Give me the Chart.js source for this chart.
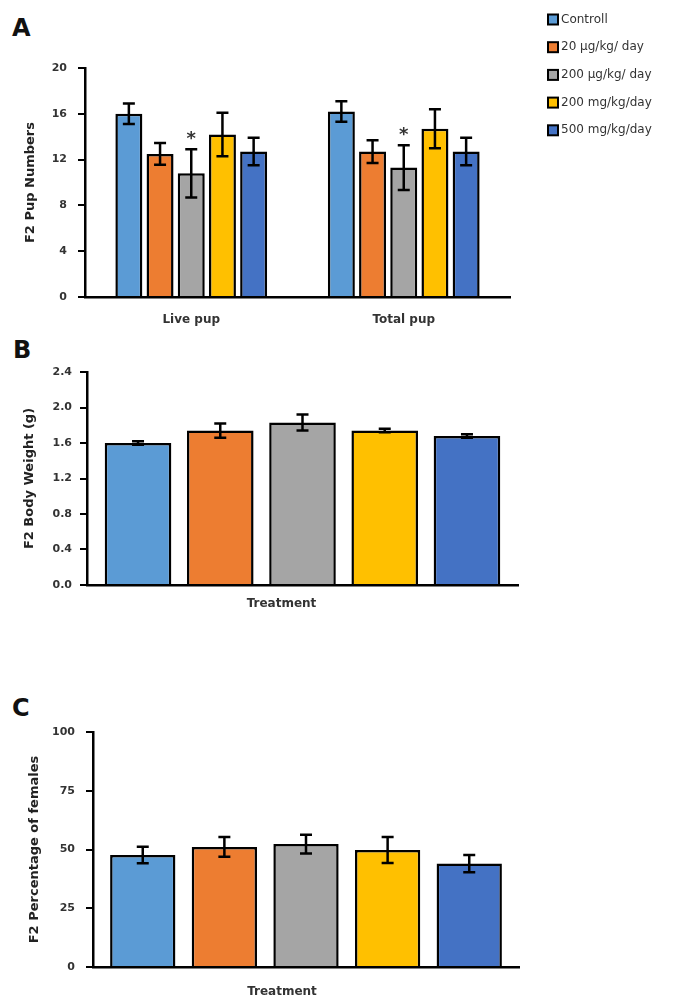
<!DOCTYPE html>
<html>
<head>
<meta charset="utf-8">
<script src="https://cdn.jsdelivr.net/npm/chart.js@4"></script>
<style>
  body { margin: 0; background: #fff; width: 676px; height: 1008px; position: relative; overflow: hidden; }
  canvas { position: absolute; left: 0; }
  .tag { position: absolute; font: bold 24px 'DejaVu Sans', sans-serif; line-height: 1; color: #111; }
</style>
</head>
<body>
<div class="tag" style="left:12px;top:16px">A</div>
<div class="tag" style="left:13px;top:338px">B</div>
<div class="tag" style="left:12px;top:696px">C</div>
<canvas id="chartA" width="676" height="340" style="top:0"></canvas>
<canvas id="chartB" width="676" height="290" style="top:330px"></canvas>
<canvas id="chartC" width="676" height="318" style="top:690px"></canvas>
<script>
// data
const groups = ['Controll', '20 μg/kg/ day', '200 μg/kg/ day', '200 mg/kg/day', '500 mg/kg/day'];
const colors = ['#5B9BD5', '#ED7D31', '#A5A5A5', '#FFC000', '#4472C4'];

const pupCategories = ['Live pup', 'Total pup'];
const livePup = [16.0, 12.5, 10.8, 14.2, 12.7];
const livePupErr = [0.9, 0.95, 2.1, 1.9, 1.2];
const totalPup = [16.2, 12.7, 11.3, 14.7, 12.7];
const totalPupErr = [0.9, 1.0, 1.95, 1.7, 1.2];
const pupStars = ['', '', '*', '', ''];
const pupTicks = [0, 4, 8, 12, 16, 20];

const treatCategories = ['Treatment'];
const bodyWeight = [1.60, 1.74, 1.83, 1.74, 1.68];
const bodyWeightErr = [0.02, 0.08, 0.09, 0.02, 0.02];
const weightTicks = [0, 0.4, 0.8, 1.2, 1.6, 2.0, 2.4];

const femalePct = [47.7, 51.1, 52.3, 49.8, 44.0];
const femalePctErr = [3.5, 4.2, 4.0, 5.5, 3.7];
const femaleTicks = [0, 25, 50, 75, 100];

const FONT = "'DejaVu Sans', sans-serif";

const errorBars = {
  id: 'errorBars',
  afterDatasetsDraw(chart, args, opts) {
    const ctx = chart.ctx;
    const y = chart.scales.y;
    ctx.save();
    ctx.strokeStyle = '#000';
    ctx.lineWidth = 2.5;
    chart.data.datasets.forEach((ds, i) => {
      chart.getDatasetMeta(i).data.forEach((bar, j) => {
        const v = ds.data[j], e = ds.errors[j];
        const top = y.getPixelForValue(v + e);
        const bot = y.getPixelForValue(v - e);
        const cw = 12;
        ctx.beginPath();
        ctx.moveTo(bar.x, top); ctx.lineTo(bar.x, bot);
        ctx.moveTo(bar.x - cw / 2, top); ctx.lineTo(bar.x + cw / 2, top);
        ctx.moveTo(bar.x - cw / 2, bot); ctx.lineTo(bar.x + cw / 2, bot);
        ctx.stroke();
        if (ds.star) {
          ctx.fillStyle = '#333';
          ctx.font = 'bold 18px ' + FONT;
          ctx.textAlign = 'center';
          ctx.textBaseline = 'middle';
          ctx.fillText(ds.star, bar.x, top - 10);
        }
      });
    });
    ctx.restore();
  }
};

const sideLegend = {
  id: 'sideLegend',
  afterDraw(chart) {
    const ctx = chart.ctx;
    ctx.save();
    ctx.font = '12px ' + FONT;
    ctx.textBaseline = 'middle';
    chart.data.datasets.forEach((ds, i) => {
      const cy = 19.5 + i * 27.7;
      ctx.fillStyle = ds.backgroundColor;
      ctx.fillRect(548, cy - 5, 10, 10);
      ctx.strokeStyle = '#000';
      ctx.lineWidth = 2;
      ctx.strokeRect(548, cy - 5, 10, 10);
      ctx.fillStyle = '#333';
      ctx.fillText(ds.label, 561, cy);
    });
    ctx.restore();
  }
};

function makeChart(id, labels, datasets, cfg) {
  return new Chart(document.getElementById(id), {
    type: 'bar',
    data: { labels: labels, datasets: datasets },
    plugins: cfg.legend ? [errorBars, sideLegend] : [errorBars],
    options: {
      responsive: false,
      animation: false,
      events: [],
      layout: { padding: cfg.padding },
      datasets: { bar: { categoryPercentage: cfg.catPct, barPercentage: cfg.barPct } },
      plugins: { legend: { display: false }, tooltip: { enabled: false } },
      scales: {
        x: {
          offset: true,
          afterFit: s => { s.height = cfg.xHeight; },
          grid: { display: false, drawTicks: false },
          border: { display: true, color: '#000', width: 2.5 },
          ticks: { padding: cfg.xPad, labelOffset: cfg.labelOffset || 0, color: '#333',
                   font: { family: FONT, size: 12, weight: 'bold' } }
        },
        y: {
          min: cfg.ticks[0],
          max: cfg.ticks[cfg.ticks.length - 1],
          afterBuildTicks: s => { s.ticks = cfg.ticks.map(v => ({ value: v })); },
          afterFit: s => { s.width = cfg.yWidth; },
          grid: { drawOnChartArea: false, drawTicks: true, tickLength: 7, color: '#000', lineWidth: 2 },
          border: { display: true, color: '#000', width: 2.5 },
          ticks: { padding: cfg.yPad, color: '#333', font: { family: FONT, size: 11, weight: 'bold' },
                   callback: cfg.fmt || (v => v) },
          title: { display: true, text: cfg.title, color: '#222',
                   font: { family: FONT, size: 13, weight: 'bold' },
                   padding: { top: cfg.titlePad, bottom: 0 } }
        }
      }
    }
  });
}

function barDataset(i, values, errors, star) {
  return {
    label: groups[i],
    data: values,
    errors: errors,
    star: star,
    backgroundColor: colors[i],
    borderColor: '#000',
    borderWidth: 2.5
  };
}

makeChart('chartA', pupCategories,
  groups.map((g, i) => barDataset(i, [livePup[i], totalPup[i]], [livePupErr[i], totalPupErr[i]], pupStars[i])),
  { legend: true, padding: { top: 68, right: 166, bottom: 0, left: 0 }, xHeight: 43, yWidth: 85,
    catPct: 0.734, barPct: 0.865, ticks: pupTicks, yPad: 11, xPad: 16, titlePad: 23,
    title: 'F2 Pup Numbers' });

makeChart('chartB', treatCategories,
  groups.map((g, i) => barDataset(i, [bodyWeight[i]], [bodyWeightErr[i]], '')),
  { padding: { top: 42, right: 158, bottom: 0, left: 0 }, xHeight: 35, yWidth: 87,
    catPct: 0.954, barPct: 0.81, ticks: weightTicks, yPad: 8, xPad: 12, titlePad: 22,
    labelOffset: -21, fmt: v => v.toFixed(1), title: 'F2 Body Weight (g)' });

makeChart('chartC', treatCategories,
  groups.map((g, i) => barDataset(i, [femalePct[i]], [femalePctErr[i]], '')),
  { padding: { top: 42, right: 157, bottom: 0, left: 0 }, xHeight: 41, yWidth: 93,
    catPct: 0.958, barPct: 0.8, ticks: femaleTicks, yPad: 11, xPad: 18, titlePad: 27,
    labelOffset: -24, title: 'F2 Percentage of females' });
</script>
</body>
</html>
